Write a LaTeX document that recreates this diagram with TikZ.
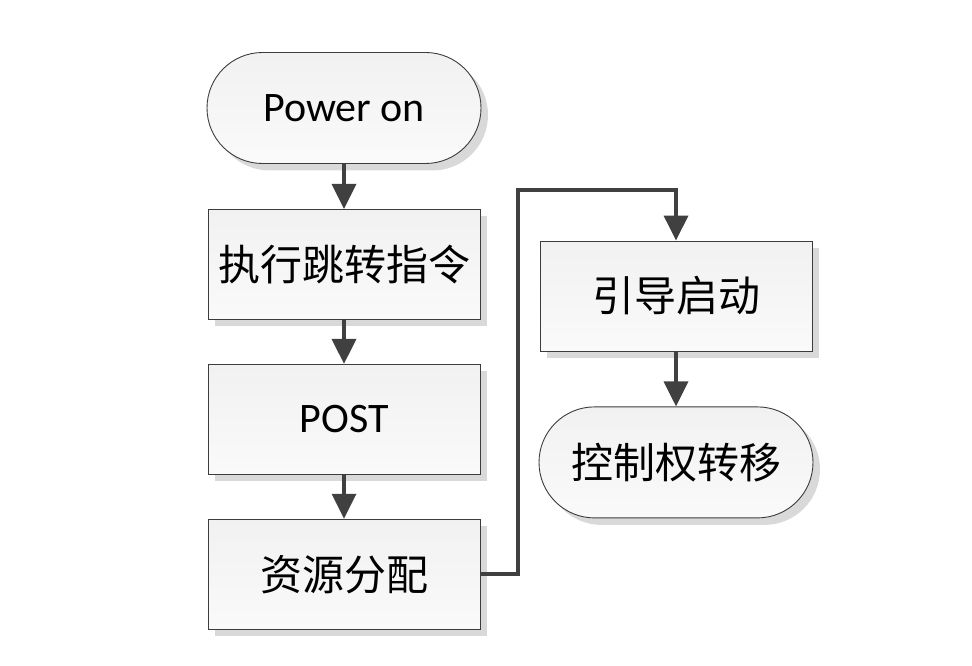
\documentclass[tikz,border=0pt]{standalone}
\usepackage{fontspec}
\setmainfont{Carlito}
\newfontfamily\cjk{Noto Sans CJK SC}
\usetikzlibrary{arrows.meta, positioning, shapes.misc, shadows}
\definecolor{boxline}{HTML}{3C3C3C}
\definecolor{connline}{HTML}{404040}
\definecolor{shadowg}{HTML}{D9D9D9}
\tikzset{
  stepbox/.style  = {rectangle, draw=boxline, line width=0.9pt,
                     top color=gray!11, bottom color=gray!4,
                     minimum width=272pt, minimum height=110pt, inner sep=0pt,
                     font=\fontsize{42}{46}\selectfont,
                     drop shadow={shadow xshift=7pt, shadow yshift=-7pt,
                                  fill=shadowg, opacity=1}},
  termbox/.style  = {stepbox, rounded rectangle, minimum width=274pt,
                     minimum height=111pt},
  conn/.style     = {draw=connline, line width=3.6pt,
                     -{Triangle[width=24pt, length=25pt]}},
}
\begin{document}
\begin{tikzpicture}[x=1pt, y=-1pt]
  \useasboundingbox (0,0) rectangle (972,666);
  % left column
  \node[termbox] (power) at (344,108) {Power on};
  \node[stepbox, below=45pt of power] (jump) {\cjk 执行跳转指令};
  \node[stepbox, below=44pt of jump] (post) {POST};
  \node[stepbox, below=44pt of post] (alloc) {\cjk 资源分配};
  % right column
  \node[stepbox] (boot) at (676,296) {\cjk 引导启动};
  \node[termbox, below=55pt of boot] (ctrl) {\cjk 控制权转移};
  \coordinate (turn) at (518,190);
  % connectors
  \draw[conn] (power) -- (jump);
  \draw[conn] (jump) -- (post);
  \draw[conn] (post) -- (alloc);
  \draw[conn] (alloc.east) -| (turn) -| (boot.north);
  \draw[conn] (boot) -- (ctrl);
\end{tikzpicture}
\end{document}
